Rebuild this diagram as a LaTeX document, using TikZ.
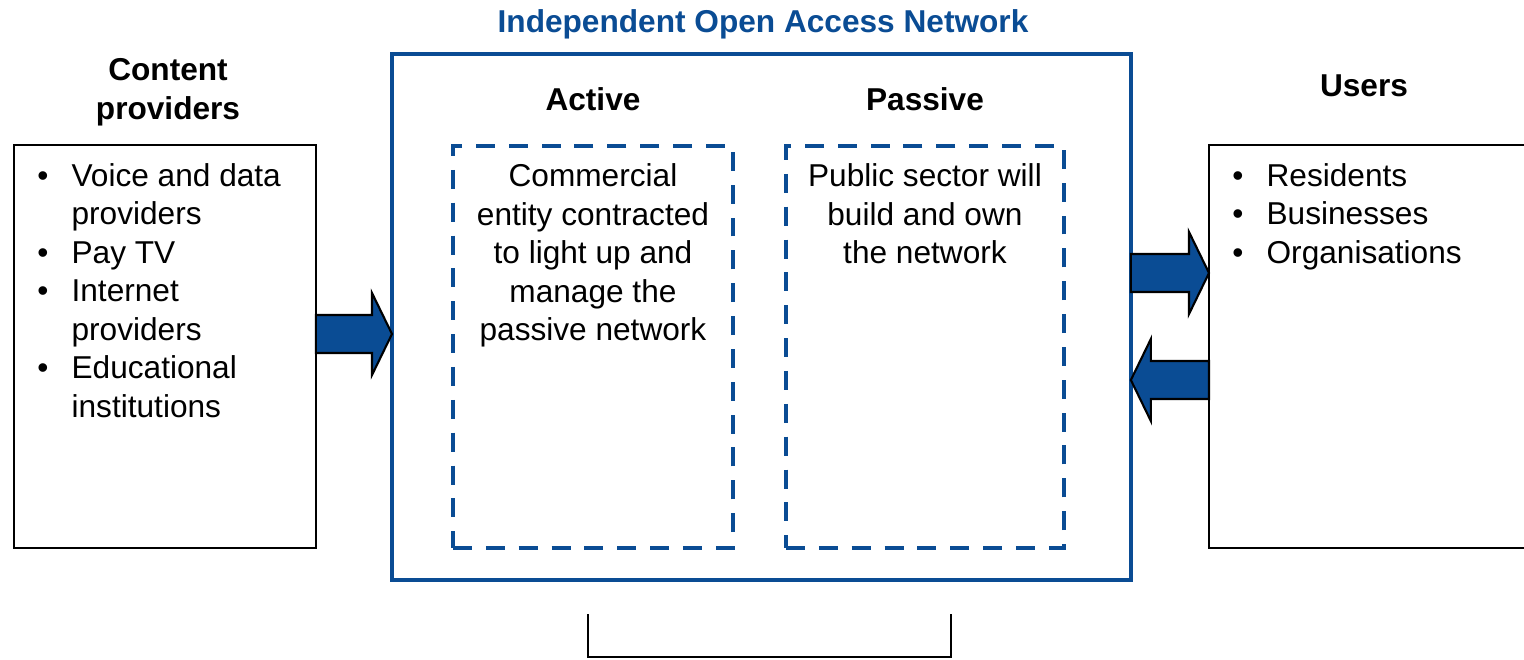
\documentclass[tikz,border=0pt]{standalone}
\usepackage{fontspec}
\setmainfont{Liberation Sans}
\usetikzlibrary{positioning, calc}
\definecolor{oanblue}{RGB}{10,76,148}
\newcommand{\bul}{\makebox[19.5pt][l]{\textbullet}}
\newcommand{\ind}{\hspace*{19.5pt}}

\begin{document}
\begin{tikzpicture}[
		x=0.02cm, y=-0.02cm,
		font=\fontsize{18pt}{21.9pt}\selectfont,
		box/.style={draw, line width=1.2pt, rectangle, anchor=north west, inner sep=0pt, outer sep=0pt},
		oanbox/.style={box, draw=oanblue, line width=2pt},
		dashbox/.style={box, draw=oanblue, line width=2.2pt, dash pattern=on 10.8pt off 7.9pt},
		head/.style={font=\fontsize{18pt}{21.9pt}\selectfont\bfseries, inner sep=0pt, align=center},
		txt/.style={inner sep=0pt, align=center, anchor=north},
		bullets/.style={inner sep=0pt, align=left, anchor=north west},
		blockarrow/.style={draw, fill=oanblue, line width=1.2pt, to path={
				($(\tikztostart)+(0,19)$) -- ($(\tikztotarget)!0.4cm!(\tikztostart)+(0,19)$)
				-- ($(\tikztotarget)!0.4cm!(\tikztostart)+(0,41)$) -- (\tikztotarget)
				-- ($(\tikztotarget)!0.4cm!(\tikztostart)+(0,-41)$)
				-- ($(\tikztotarget)!0.4cm!(\tikztostart)+(0,-19)$)
				-- ($(\tikztostart)+(0,-19)$) -- cycle}}
		]
		\useasboundingbox (0,0) rectangle (1524,659);
		
		% Boxes
		\node[box, minimum width=6.04cm, minimum height=8.06cm] (cp) at (14,145) {};
		\node[oanbox, minimum width=14.78cm, minimum height=10.52cm] (oan) at (392,54) {};
		\node[dashbox, minimum width=5.6cm, minimum height=8.04cm] (act) at (453,146) {};
		\node[dashbox, minimum width=5.56cm, minimum height=8.04cm] (pas) at (786,146) {};
		\node[box, minimum width=6.8cm, minimum height=8.06cm] (usr) at (1209,145) {};
		
		% Headings
		\node[head, text=oanblue] (title) at (763,24) {Independent Open Access Network};
		\node[head] (cphead) at (168,92) {Content\\providers};
		\node[head, above=0.69cm of act] (acthead) {Active};
		\node[head, above=0.69cm of pas] (pashead) {Passive};
		\node[head] (usrhead) at (1364,86) {Users};
		
		% Texts
		\node[bullets] (cplist) at (37,163) {\bul Voice and data\\\ind providers\\\bul Pay TV\\\bul Internet\\\ind providers\\\bul Educational\\\ind institutions};
		\node[txt, below=0.35cm of act.north] (acttxt) {Commercial\\entity contracted\\to light up and\\manage the\\passive network};
		\node[txt, below=0.35cm of pas.north] (pastxt) {Public sector will\\build and own\\the network};
		\node[bullets] (usrlist) at (1232,163) {\bul Residents\\\bul Businesses\\\bul Organisations};
		
		% Block arrows
		\coordinate (a1) at (0,334);
		\coordinate (a2) at (0,273);
		\coordinate (a3) at (0,380);
		\draw[blockarrow] (cp.east |- a1) to (oan.west |- a1);
		\draw[blockarrow] (oan.east |- a2) to (usr.west |- a2);
		\draw[blockarrow] (usr.west |- a3) to (oan.east |- a3);
		
		% Bracket
		\draw[line width=1.2pt] (588,614) |- (951,657) -- (951,614);
		
	\end{tikzpicture}
\end{document}
